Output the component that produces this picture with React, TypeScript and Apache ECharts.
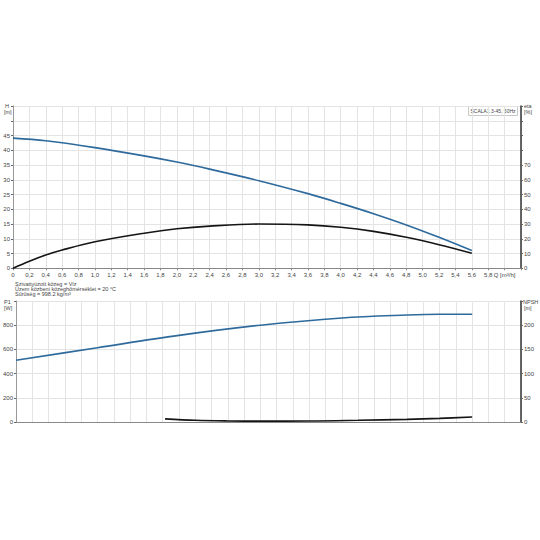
import React, { useEffect, useRef } from "react";
import * as echarts from "echarts";

// pump curves
const qHead = [0, 0.4, 1.0, 1.6, 2.0, 2.4, 3.0, 3.6, 4.0, 4.4, 4.8, 5.2, 5.6];
const head = [44.1, 43.2, 40.9, 38.1, 36.0, 33.6, 29.7, 25.3, 22.0, 18.5, 14.7, 10.5, 6.0];

const qEta = [0, 0.2, 0.4, 0.6, 1.0, 1.6, 2.0, 2.4, 3.0, 3.6, 4.0, 4.4, 4.8, 5.2, 5.6];
const eta = [0, 4.8, 9.0, 12.4, 18.0, 23.8, 26.8, 28.6, 30.0, 29.4, 27.8, 25.0, 21.0, 16.0, 10.2];

const qP1 = [0, 1.0, 2.0, 3.0, 4.0, 4.8, 5.2, 5.6];
const p1 = [510, 614, 716, 800, 860, 884, 890, 890];

const qNpsh = [1.83, 2.2, 2.6, 3.0, 3.6, 4.2, 4.8, 5.2, 5.6];
const npsh = [6.5, 3.5, 2.2, 1.8, 2.0, 3.5, 5.5, 7.5, 10.3];

const infoLines = [
    "Szivattyúzott közeg = Víz",
    "Üzem közbeni közeghőmérséklet = 20 °C",
    "Sűrűség = 998.2 kg/m³",
];

const BLUE = "#2e6a9c";
const DARK = "#151515";
const GRID = "#e4e4e4";
const LABEL = "#444";
const FONT = "Liberation Sans, Arial, sans-serif";

const zip = (xs: number[], ys: number[]) => xs.map((x, i) => [x, ys[i]]);

function fmtQ(v: number) {
    const r = Math.round(v * 10) / 10;
    if (r === 0) return "0";
    if (Math.abs(r - 6.0) < 0.01) return "Q [m³/h]";
    if (r > 6.05) return "";
    return r.toFixed(1).replace(".", ",");
}

const hideAbove = (lim: number) => (v: number) => (v > lim + 1e-6 ? "" : String(Math.round(v)));

const labelStyle = { color: LABEL, fontSize: 6, fontFamily: FONT };

function xAxis(gridIndex: number, showLabels: boolean) {
    return {
        type: "value",
        gridIndex,
        min: 0,
        max: 6.2,
        interval: 0.2,
        axisLine: { onZero: false, lineStyle: { color: "#888", width: 1 } },
        axisTick: { show: showLabels, length: 2, lineStyle: { color: "#888" } },
        axisLabel: { show: showLabels, margin: 4, formatter: fmtQ, ...labelStyle, showMaxLabel: true },
        splitLine: { show: true, lineStyle: { color: GRID, width: 1 } },
    };
}

function yAxis(gridIndex: number, position: "left" | "right", max: number, interval: number, labelMax: number, dark: boolean, grid: boolean) {
    return {
        type: "value",
        gridIndex,
        position,
        min: 0,
        max,
        interval,
        axisLine: { show: true, lineStyle: { color: dark ? "#333" : "#999", width: dark ? 1.5 : 1 } },
        axisTick: { show: true, length: 2, lineStyle: { color: "#666" } },
        axisLabel: { margin: 3, formatter: hideAbove(labelMax), ...labelStyle },
        splitLine: { show: grid, lineStyle: { color: GRID, width: 1 } },
    };
}

function line(data: number[][], color: string, xAxisIndex: number, yAxisIndex: number) {
    return {
        type: "line",
        data,
        xAxisIndex,
        yAxisIndex,
        smooth: 0.35,
        showSymbol: false,
        lineStyle: { color, width: 1.6 },
        silent: true,
    };
}

const txt = (x: number, y: number, text: string, size = 5.5) => ({
    type: "text",
    x,
    y,
    style: { text, fill: LABEL, fontSize: size, fontFamily: FONT, align: "left", verticalAlign: "middle" },
});

const App: React.FC = () => {
    const ref = useRef<HTMLDivElement | null>(null);

    useEffect(() => {
        if (!ref.current) return;
        const inst = echarts.init(ref.current, undefined, { renderer: "svg" });

        inst.setOption({
            animation: false,
            backgroundColor: "#fff",
            grid: [
                { left: 13, right: 19, top: 106, height: 162.3 },
                { left: 13, right: 19, top: 301, height: 121 },
            ],
            xAxis: [xAxis(0, true), xAxis(1, false)],
            yAxis: [
                yAxis(0, "left", 55, 5, 45, false, true),
                yAxis(0, "right", 110, 10, 70, true, false),
                yAxis(1, "left", 1000, 200, 800, false, true),
                yAxis(1, "right", 250, 50, 200, true, false),
            ],
            series: [
                line(zip(qHead, head), BLUE, 0, 0),
                line(zip(qEta, eta), DARK, 0, 1),
                line(zip(qP1, p1), BLUE, 1, 2),
                line(zip(qNpsh, npsh), DARK, 1, 3),
            ],
            graphic: [
                txt(5, 106, "H"),
                txt(4, 112, "[m]"),
                txt(524, 106, "eta"),
                txt(524, 112, "[%]"),
                txt(4, 302, "P1"),
                txt(4, 308, "[W]"),
                txt(523, 302, "NPSH"),
                txt(524, 308, "[m]"),
                ...infoLines.map((s, i) => txt(15, 284 + i * 5.2, s)),
                {
                    type: "rect",
                    shape: { x: 468.5, y: 106.5, width: 49, height: 9 },
                    style: { fill: "#fff", stroke: "#bbb", lineWidth: 0.8 },
                },
                txt(470.5, 111.2, "SCALA1 3-45, 50Hz", 5),
            ],
        });

        return () => inst.dispose();
    }, []);

    return (
        <div
            ref={ref}
            style={{ position: "fixed", left: 0, top: 0, width: 540, height: 540, background: "#fff" }}
        />
    );
};

export default App;
